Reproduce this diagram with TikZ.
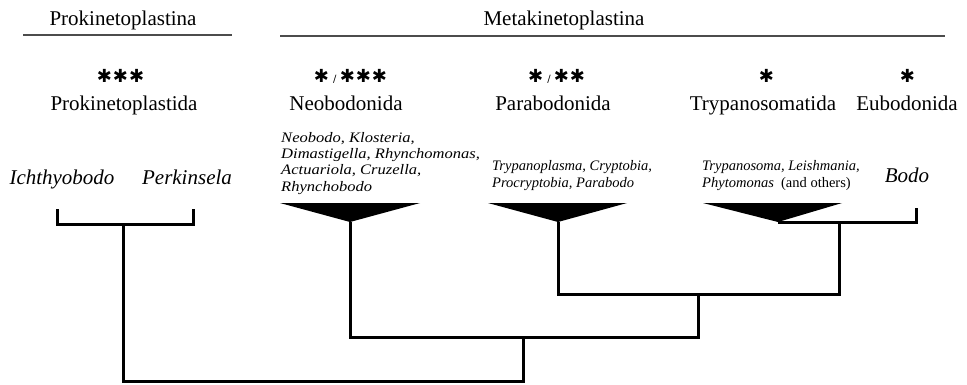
\documentclass[tikz,border=0pt]{standalone}
\usepackage{fontspec}
\setmainfont{Liberation Serif}
\newfontfamily\starfont{DejaVu Sans}
\usetikzlibrary{positioning}

\tikzset{
	clade/.style={font=\fontsize{21}{25}\selectfont, inner sep=0pt, anchor=base},
	genus/.style={font=\fontsize{21}{25}\selectfont\itshape, inner sep=0pt, anchor=base},
	genlist/.style={font=\fontsize{14.5}{16.2}\selectfont\itshape, align=left, inner sep=0pt, anchor=base west},
	support/.style={font=\fontsize{18}{21}\starfont, inner sep=0pt},
	branch/.style={line width=3pt, line join=miter},
	rule/.style={line width=1.2pt, gray!60!black},
	wedge/.style={fill=black}
}
\newcommand{\st}{\char"2731\kern1pt}
\newcommand{\sep}{{\fontsize{10}{10}\selectfont\ /\ }}

\begin{document}
\begin{tikzpicture}[x=1pt, y=-1pt]
	\useasboundingbox (0,0) rectangle (967,384);
	
	% higher groups
	\node[clade] (prokina) at (123,25) {Prokinetoplastina};
	\node[clade] (metakina) at (564,25) {Metakinetoplastina};
	\draw[rule] (23,35) -- (232,35);
	\draw[rule] (280,36) -- (945,36);
	
	% orders with support
	\node[support] (s1) at (121,76) {\st\st\st};
	\node[clade] (prokida) at (124,110) {Prokinetoplastida};
	\node[support] (s2) at (351,76) {\st\sep\st\st\st};
	\node[clade] (neo) at (346,110) {Neobodonida};
	\node[support] (s3) at (557,76) {\st\sep\st\st};
	\node[clade] (para) at (553,110) {Parabodonida};
	\node[support] (s4) at (767,76) {\st};
	\node[clade] (tryp) at (763,110) {Trypanosomatida};
	\node[support] (s5) at (908,76) {\st};
	\node[clade] (eubo) at (907,110) {Eubodonida};
	
	% genera (base = last line)
	\node[genus] (ichth) at (62,184) {Ichthyobodo};
	\node[genus] (perk) at (187,184) {Perkinsela};
	\node[genlist, xscale=1.14, transform shape] (neogen) at (281,191) {Neobodo, Klosteria,\\Dimastigella, Rhynchomonas,\\Actuariola, Cruzella,\\Rhynchobodo};
	\node[genlist] (paragen) at (492,187) {Trypanoplasma, Cryptobia,\\Procryptobia, Parabodo};
	\node[genlist] (trypgen) at (702,187) {Trypanosoma, Leishmania,\\Phytomonas\ \ {\upshape(and others)}};
	\node[genus] (bodo) at (907,182) {Bodo};
	
	% collapsed clades
	\coordinate (neoT) at (350,222);
	\coordinate (paraT) at (558,222);
	\coordinate (trypT) at (778,222);
	\fill[wedge] (280,203) -- (420,203) -- (neoT) -- cycle;
	\fill[wedge] (488,203) -- (627,203) -- (paraT) -- cycle;
	\fill[wedge] (703,203) -- (842,203) -- (trypT) -- cycle;
	
	% tips and inner nodes
	\coordinate (ichB) at (57,209);
	\coordinate (perB) at (193,209);
	\coordinate (bodoB) at (916,208);
	\coordinate (trybo) at (839,222);
	\coordinate (c1) at (698,294);
	\coordinate (c2) at (523,337);
	\coordinate (c3) at (123,224);
	\coordinate (root) at (320,381);
	
	% tree
	\draw[branch] (trypT) -- (bodoB |- trypT) -- (bodoB);
	\draw[branch] (paraT) |- (c1) -| (trybo);
	\draw[branch] (neoT) |- (c2) -| (c1);
	\draw[branch] (ichB) |- (c3) -| (perB);
	\draw[branch] (c3) |- (root) -| (c2);
\end{tikzpicture}
\end{document}
